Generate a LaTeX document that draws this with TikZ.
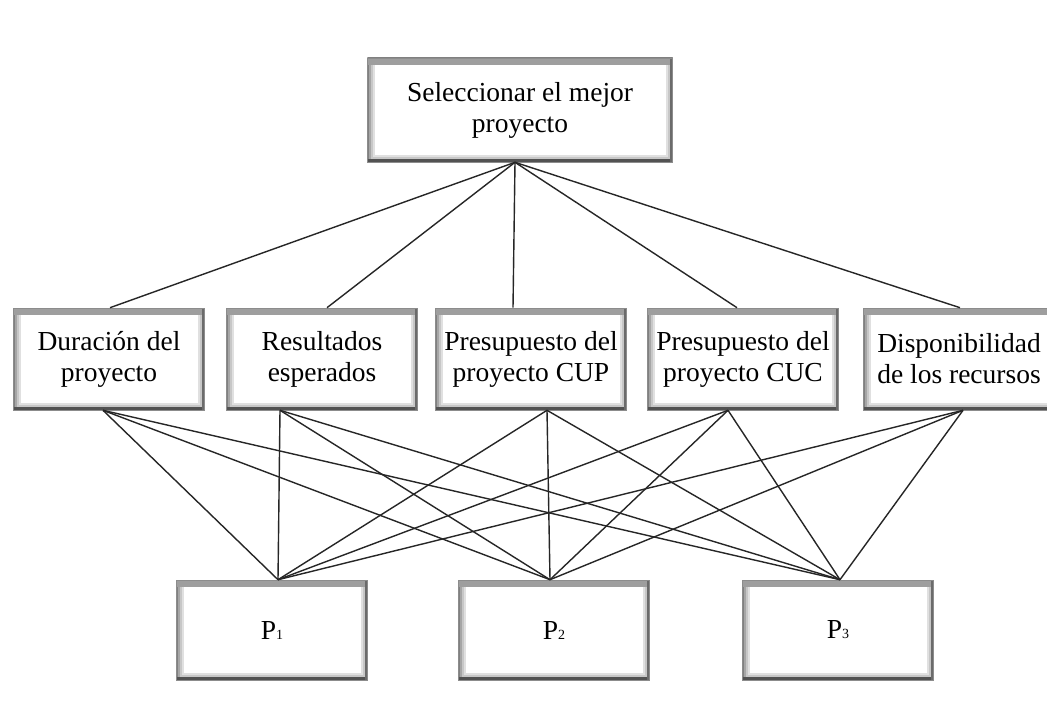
\documentclass[tikz,border=0pt]{standalone}
\usepackage{fontspec}
\setmainfont{Liberation Serif}
\usetikzlibrary{positioning}
\newcommand{\idx}[1]{{\fontsize{14}{14}\selectfont #1}}
\tikzset{
  caja/.style={draw=black!45, line width=0.6pt, fill=white, align=center,
    minimum width=191pt, minimum height=102pt, inner sep=2pt,
    font=\fontsize{27.5}{31}\selectfont,
    path picture={
      \foreach \w/\c in {14/12,10/22,6/35,3/50}
        \draw[black!\c, line width=\w pt] (path picture bounding box.south west) rectangle (path picture bounding box.north east);
      \fill[black!38] (path picture bounding box.north west) rectangle ([yshift=-7pt]path picture bounding box.north east);
      \fill[black!68] (path picture bounding box.south west) rectangle ([yshift=3.5pt]path picture bounding box.south east);
      \fill[black!58] (path picture bounding box.south east) rectangle ([xshift=-3pt]path picture bounding box.north east);
    }},
  enlace/.style={draw=black!85, line width=1.4pt}
}
\begin{document}
\begin{tikzpicture}[x=1pt,y=-1pt]
\useasboundingbox[fill=white] (0,0) rectangle (1047,701);
% objetivo
\node[caja, minimum width=305pt, minimum height=104pt] (meta) at (520,110) {Seleccionar el mejor\\proyecto};
% criterios
\node[caja] (dur) at (109,359) {Duración del\\proyecto};
\node[caja] (res) at (322,359) {Resultados\\esperados};
\node[caja] (cup) at (531,359) {Presupuesto del\\proyecto CUP};
\node[caja] (cuc) at (743,359) {Presupuesto del\\proyecto CUC};
\node[caja] (dis) at (959,359) {Disponibilidad\\de los recursos};
% alternativas
\node[caja, minimum height=100pt] (p1) at (272,630) {P\idx{1}};
\node[caja, minimum height=100pt] (p2) at (554,630) {P\idx{2}};
\node[caja, minimum height=100pt] (p3) at (838,630) {P\idx{3}};

\foreach \n/\dx in {dur/1,res/5,cup/-18,cuc/-6,dis/1}
  \draw[enlace] ([xshift=-5pt]meta.south) -- ([xshift=\dx pt]\n.north);
\foreach \n/\dx in {dur/-6,res/-42,cup/16,cuc/-15,dis/4}
  \foreach \p/\q in {p1/6,p2/-4,p3/2}
    \draw[enlace] ([xshift=\dx pt]\n.south) -- ([xshift=\q pt]\p.north);
\end{tikzpicture}
\end{document}
